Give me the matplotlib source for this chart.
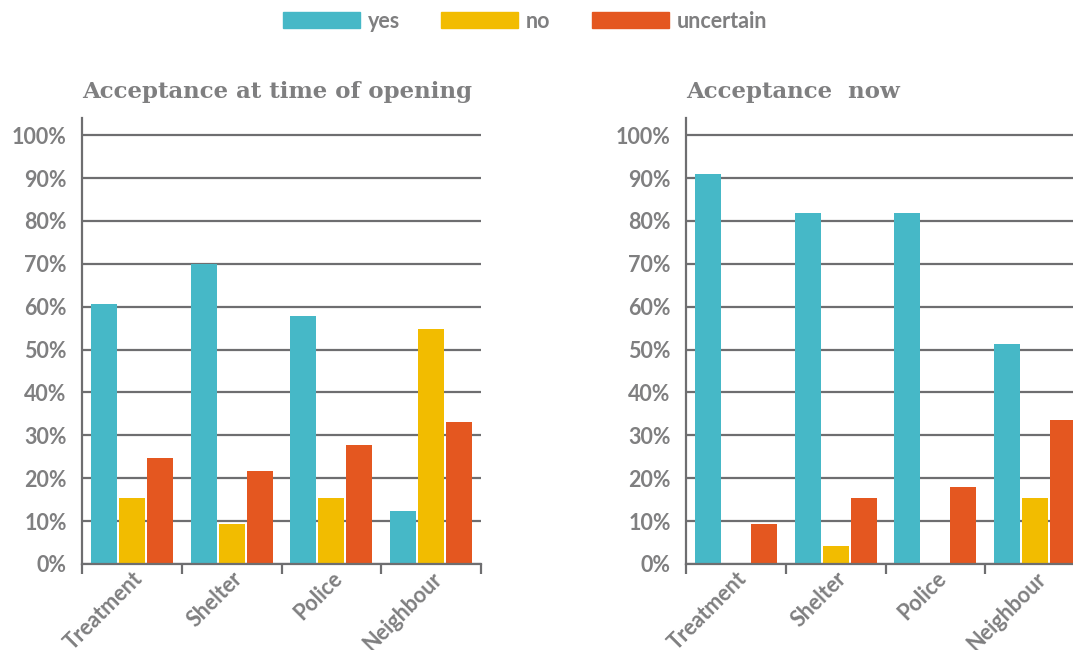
import matplotlib
matplotlib.use("Agg")
import matplotlib.pyplot as plt
import matplotlib.ticker as ticker
from matplotlib.patches import Patch
import numpy as np

categories = ["Treatment", "Shelter", "Police", "Neighbour"]
series_names = ["yes", "no", "uncertain"]

opening_yes = [60.7, 70.0, 57.8, 12.4]
opening_no = [15.4, 9.3, 15.4, 54.8]
opening_uncertain = [24.7, 21.7, 27.7, 33.1]

now_yes = [90.9, 81.8, 81.8, 51.3]
now_no = [0.3, 4.2, 0.3, 15.4]
now_uncertain = [9.3, 15.4, 18.0, 33.6]

titles = ["Acceptance at time of opening", "Acceptance  now"]

COLORS = ["#46B8C7", "#F2BC00", "#E45720"]
GRAY = "#7F7F80"
GRID = "#6E6E70"

plt.rcParams["font.family"] = ["Lato", "DejaVu Sans"]
plt.rcParams["font.weight"] = "bold"

fig = plt.figure(figsize=(10.73, 6.5), dpi=100)

panels = [
    (opening_yes, opening_no, opening_uncertain),
    (now_yes, now_no, now_uncertain),
]
lefts = [82 / 1073, 686 / 1073]

x = np.arange(len(categories))
width = 0.26
step = 0.28

for left, title, data in zip(lefts, titles, panels):
    ax = fig.add_axes([left, 86 / 650, 399 / 1073, 446 / 650])
    for idx, values in enumerate(data):
        ax.bar(x + (idx - 1) * step, np.array(values) / 100, width=width,
               color=COLORS[idx], zorder=3)
    ax.set_xlim(-0.5, len(categories) - 0.5)
    ax.set_ylim(0, 1.04)
    ax.set_yticks(np.arange(0, 1.01, 0.1))
    ax.yaxis.set_major_formatter(ticker.FuncFormatter(lambda v, _p: f"{v*100:.0f}%"))
    ax.grid(axis="y", color=GRID, linewidth=1.6, zorder=0)
    for side in ["top", "right"]:
        ax.spines[side].set_visible(False)
    for side in ["left", "bottom"]:
        ax.spines[side].set_color(GRID)
        ax.spines[side].set_linewidth(1.6)
        ax.spines[side].set_zorder(4)
    ax.tick_params(axis="y", length=0, pad=11, labelsize=15.5, labelcolor=GRAY)
    ax.set_xticks(np.arange(-0.5, len(categories)), labels=[""] * (len(categories) + 1))
    ax.set_xticks(x, labels=categories, minor=True, rotation=45, ha="right",
                  va="top", rotation_mode="anchor")
    ax.tick_params(axis="x", which="major", length=7, width=1.6, color=GRID, direction="out")
    ax.tick_params(axis="x", which="minor", length=0, pad=3, labelsize=15.5, labelcolor=GRAY)
    ax.text(0, 1.045, title, transform=ax.transAxes, ha="left", va="baseline",
            fontsize=16.5, fontweight="bold", color=GRAY, family="DejaVu Serif")

# one legend per entry, to mimic the uneven spacing of the original
legend_x = [283 / 1073, 441 / 1073, 592 / 1073]
for name, color, lx in zip(series_names, COLORS, legend_x):
    leg = fig.legend([Patch(color=color)], [name], loc="center left",
                     bbox_to_anchor=(lx, 1 - 21 / 650), frameon=False,
                     borderpad=0, borderaxespad=0, handlelength=3.58,
                     handleheight=0.74, handletextpad=0.37,
                     prop={"family": "Lato", "weight": "bold", "size": 15.5})
    for t in leg.get_texts():
        t.set_color(GRAY)

fig.savefig("out.png", dpi=100)
